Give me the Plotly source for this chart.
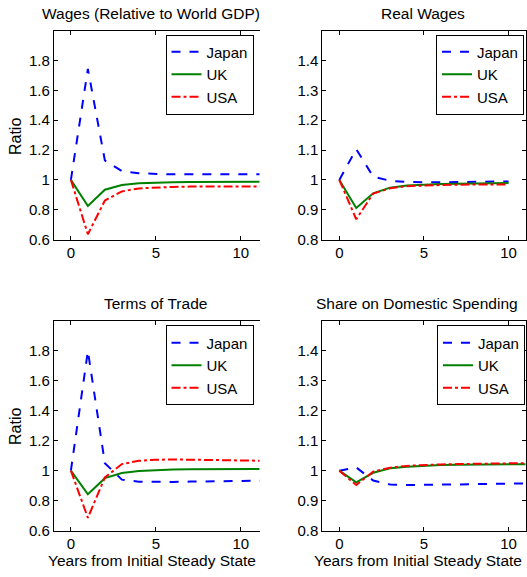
import plotly.graph_objects as go

W, H = 527, 577

years_long = list(range(0, 13))
years_short = list(range(0, 11))
countries = ["Japan", "UK", "USA"]

wages_japan = [1.0, 1.743, 1.13, 1.059, 1.044, 1.039, 1.037, 1.037, 1.037, 1.037, 1.037, 1.037, 1.037]
wages_uk = [1.0, 0.825, 0.934, 0.966, 0.977, 0.982, 0.985, 0.986, 0.987, 0.987, 0.988, 0.988, 0.988]
wages_usa = [1.0, 0.636, 0.862, 0.923, 0.943, 0.950, 0.953, 0.955, 0.956, 0.956, 0.957, 0.957, 0.957]

real_japan = [1.0, 1.103, 1.011, 0.997, 0.993, 0.992, 0.992, 0.993, 0.993, 0.994, 0.995]
real_uk = [1.0, 0.906, 0.955, 0.974, 0.981, 0.984, 0.986, 0.987, 0.988, 0.989, 0.990]
real_usa = [1.0, 0.868, 0.954, 0.972, 0.979, 0.982, 0.983, 0.984, 0.985, 0.985, 0.985]

tot_japan = [1.0, 1.80, 1.05, 0.94, 0.926, 0.924, 0.925, 0.927, 0.929, 0.931, 0.932, 0.933, 0.934]
tot_uk = [1.0, 0.842, 0.95, 0.984, 0.998, 1.004, 1.007, 1.009, 1.010, 1.011, 1.011, 1.011, 1.011]
tot_usa = [1.0, 0.685, 0.955, 1.044, 1.066, 1.073, 1.075, 1.074, 1.072, 1.070, 1.068, 1.066, 1.065]

share_japan = [1.0, 1.011, 0.967, 0.954, 0.952, 0.952, 0.953, 0.954, 0.955, 0.956, 0.957, 0.957, 0.958]
share_uk = [1.0, 0.961, 0.993, 1.008, 1.013, 1.017, 1.019, 1.020, 1.021, 1.021, 1.022, 1.022, 1.022]
share_usa = [1.0, 0.952, 0.997, 1.010, 1.016, 1.019, 1.021, 1.022, 1.023, 1.024, 1.025, 1.026, 1.026]

titles = ["Wages (Relative to World GDP)", "Real Wages", "Terms of Trade", "Share on Domestic Spending"]
ylabel = "Ratio"
xlabel = "Years from Initial Steady State"

ticks_big = [0.6, 0.8, 1.0, 1.2, 1.4, 1.6, 1.8]
ticks_big_text = ["0.6", "0.8", "1", "1.2", "1.4", "1.6", "1.8"]
ticks_small = [0.8, 0.9, 1.0, 1.1, 1.2, 1.3, 1.4]
ticks_small_text = ["0.8", "0.9", "1", "1.1", "1.2", "1.3", "1.4"]
xticks = [0, 5, 10]

FONT = "Liberation Sans, Arial, sans-serif"
colors = {"Japan": "#0000FF", "UK": "#008000", "USA": "#FF0000"}
dashes = {"Japan": "dash", "UK": "solid", "USA": "dashdot"}

panels = [
    (years_long, [wages_japan, wages_uk, wages_usa]),
    (years_short, [real_japan, real_uk, real_usa]),
    (years_long, [tot_japan, tot_uk, tot_usa]),
    (years_long, [share_japan, share_uk, share_usa]),
]

def px_x(p):
    return p / W

def px_y(p):
    return 1 - p / H

left_dom = [px_x(54), px_x(260)]
right_dom = [px_x(323), px_x(526.5)]
top_dom = [px_y(243), px_y(31)]
bot_dom = [px_y(538), px_y(325.5)]

doms = [(left_dom, top_dom), (right_dom, top_dom), (left_dom, bot_dom), (right_dom, bot_dom)]
xranges = [[-1, 11.1], [-1, 11], [-1, 11.1], [-1, 11]]
yranges = [[0.6, 2.0], [0.8, 1.5], [0.6, 2.0], [0.8, 1.5]]
ytv = [(ticks_big, ticks_big_text), (ticks_small, ticks_small_text),
       (ticks_big, ticks_big_text), (ticks_small, ticks_small_text)]

fig = go.Figure()
legend_pos = [(px_x(254), px_y(35)), (px_x(525), px_y(35)), (px_x(254), px_y(330)), (px_x(526), px_y(330))]

for i, (xs, series) in enumerate(panels):
    k = i + 1
    xa = "x" if k == 1 else f"x{k}"
    ya = "y" if k == 1 else f"y{k}"
    lg = "legend" if k == 1 else f"legend{k}"
    for name, ys in zip(countries, series):
        fig.add_trace(go.Scatter(
            x=xs[:len(ys)], y=ys, mode="lines", name=name,
            line=dict(color=colors[name], dash=dashes[name], width=2),
            xaxis=xa, yaxis=ya, legend=lg, showlegend=True,
        ))
    xd, yd = doms[i]
    right_col = (i % 2 == 1)
    axis_common = dict(showgrid=False, zeroline=False, showline=True, linecolor="black",
                       linewidth=1, ticks="inside", ticklen=4, tickcolor="black",
                       tickfont=dict(family=FONT, size=15, color="black"))
    fig.layout[f"xaxis{'' if k == 1 else k}"] = dict(
        domain=xd, range=xranges[i], tickvals=xticks, anchor=ya, mirror="allticks",
        ticklabelstandoff=-1, **axis_common)
    fig.layout[f"yaxis{'' if k == 1 else k}"] = dict(
        domain=yd, range=yranges[i], tickvals=ytv[i][0], ticktext=ytv[i][1], anchor=xa,
        mirror="allticks" if right_col else False, **axis_common)
    lx, ly = legend_pos[i]
    fig.layout[lg] = dict(x=lx, y=ly, xanchor="right", yanchor="top", xref="paper", yref="paper",
                          bgcolor="white", bordercolor="black", borderwidth=1,
                          font=dict(family=FONT, size=15, color="black"),
                          tracegroupgap=0, itemwidth=30)

ann = []
title_pos = [(151, 14), (424, 14), (156, 308), (418, 308)]
for t, (x, y) in zip(titles, title_pos):
    ann.append(dict(text=t, x=px_x(x), y=px_y(y), xref="paper", yref="paper",
                    showarrow=False, xanchor="center", yanchor="middle",
                    font=dict(family=FONT, size=15.5, color="black")))
for yc in (138, 432):
    ann.append(dict(text=ylabel, x=px_x(15), y=px_y(yc), xref="paper", yref="paper",
                    showarrow=False, xanchor="center", yanchor="middle", textangle=-90,
                    font=dict(family=FONT, size=16, color="black")))
for xc in (152, 419):
    ann.append(dict(text=xlabel, x=px_x(xc), y=px_y(568), xref="paper", yref="paper",
                    showarrow=False, xanchor="center", yanchor="middle",
                    font=dict(family=FONT, size=15.5, color="black")))

fig.update_layout(width=W, height=H, margin=dict(l=0, r=0, t=0, b=0),
                  paper_bgcolor="white", plot_bgcolor="white", annotations=ann,
                  font=dict(family=FONT, color="black"))

fig.write_html("out.html", config={"displayModeBar": False},
               post_script="document.body.style.margin='0';")
